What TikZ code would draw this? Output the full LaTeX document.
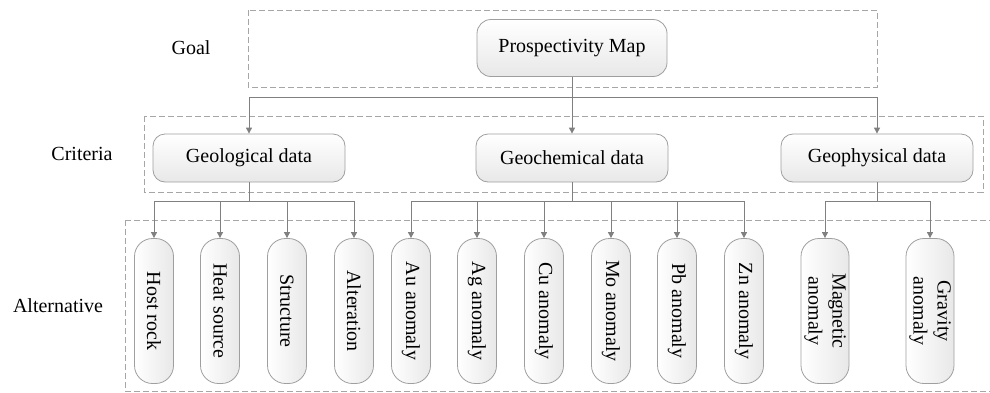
\documentclass[tikz,border=0pt]{standalone}
\usepackage{fontspec}
\setmainfont{Liberation Serif}
\usetikzlibrary{arrows.meta}
\tikzset{
  box/.style={draw=gray!75, rounded corners=6pt, top color=white, bottom color=gray!18, inner sep=0pt},
  goalbox/.style={box, rounded corners=7pt, minimum width=95pt, minimum height=28.5pt},
  critbox/.style={box, minimum width=96pt, minimum height=24pt},
  altbox/.style={box, rotate=-90, rounded corners=9pt, left color=white, right color=gray!18,
    minimum width=72.5pt, minimum height=19.5pt, align=center},
  frame/.style={draw=gray!70, dash pattern=on 3pt off 1.5pt, line width=0.4pt},
  link/.style={draw=gray, line width=0.5pt, -{Triangle[length=3pt,width=3pt]}}
}
\begin{document}
\begin{tikzpicture}[x=0.5pt, y=-0.5pt, font=\fontsize{10}{12}\selectfont, text=black]
  \useasboundingbox (0,0) rectangle (990,392);
  % dashed level frames
  \draw[frame] (248,10) rectangle (877,87);
  \draw[frame] (144,116) rectangle (983,192);
  \draw[frame] (125,220) -- (995,220);
  \draw[frame] (995,391) -- (125,391) -- (125,220);
  % level names
  \node (goal) at (191,48) {Goal};
  \node (crit) at (82,154) {Criteria};
  \node (alt) at (58,306) {Alternative};
  % goal and criteria
  \node[goalbox] (pm) at (572,48) {Prospectivity Map};
  \node[critbox] (geo) at (249,158) {Geological data};
  \node[critbox] (gch) at (572,158) {Geochemical data};
  \node[critbox] (gph) at (877,158) {Geophysical data};
  \coordinate (bpm) at (572,97);
  \draw[link] (pm) -- (gch);
  \draw[link] (bpm) -| (geo);
  \draw[link] (bpm) -| (gph);
  % alternatives
  \coordinate (bgeo) at (249,201);
  \coordinate (bgch) at (572,201);
  \coordinate (bgph) at (877,201);
  \draw[draw=gray, line width=0.5pt] (geo) -- (bgeo);
  \draw[draw=gray, line width=0.5pt] (gch) -- (bgch);
  \draw[draw=gray, line width=0.5pt] (gph) -- (bgph);
  \foreach \x/\n/\t/\b in {154/hr/Host rock/bgeo, 220/hs/Heat source/bgeo,
      287/st/Structure/bgeo, 354/al/Alteration/bgeo,
      411/au/Au anomaly/bgch, 477/ag/Ag anomaly/bgch, 544/cu/Cu anomaly/bgch,
      611/mo/Mo anomaly/bgch, 677/pb/Pb anomaly/bgch, 744/zn/Zn anomaly/bgch} {
    \node[altbox] (\n) at (\x,311) {\t};
    \draw[link] (\b) -| (\n.west);
  }
  \node[altbox, minimum height=24pt] (mag) at (825,311) {Magnetic\\anomaly};
  \node[altbox, minimum height=24pt] (grav) at (930,311) {Gravity\\anomaly};
  \draw[link] (bgph) -| (mag.west);
  \draw[link] (bgph) -| (grav.west);
\end{tikzpicture}
\end{document}
